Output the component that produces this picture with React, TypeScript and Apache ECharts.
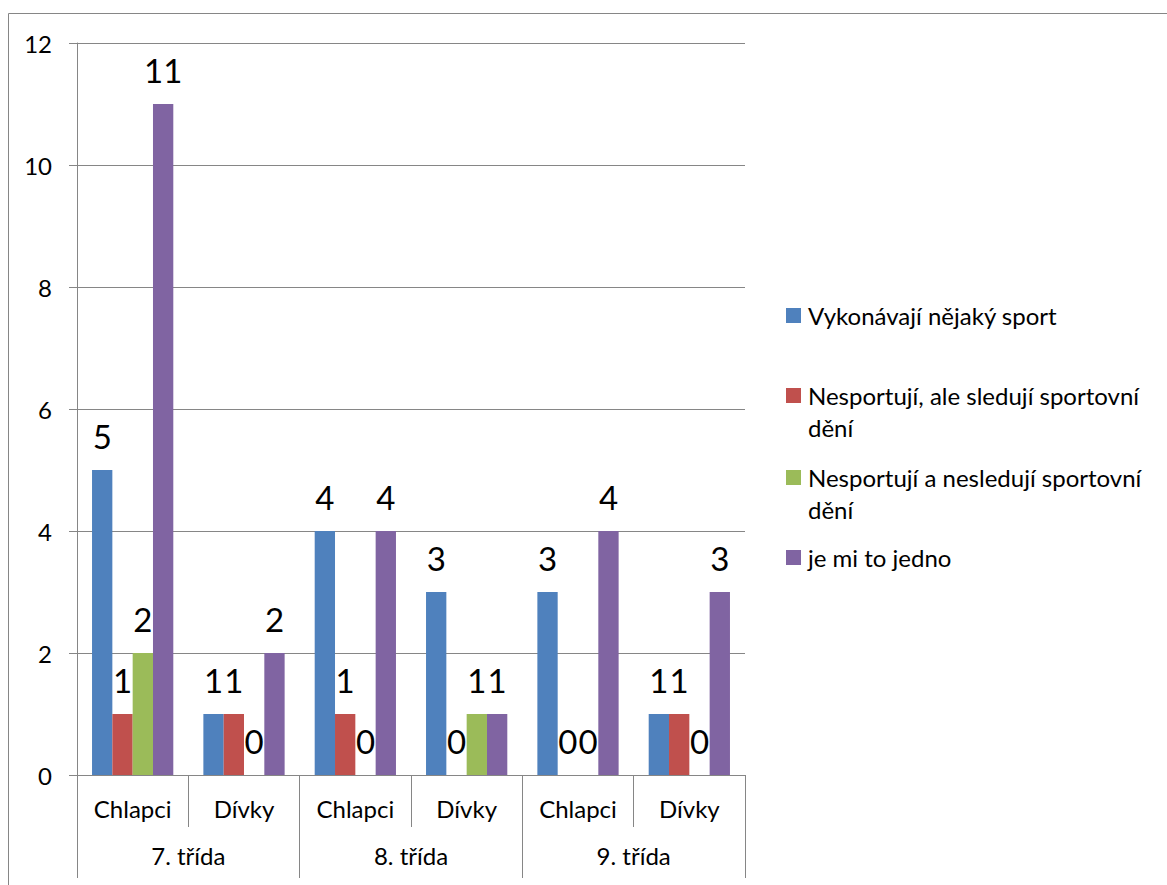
import React, { useEffect, useRef } from "react";
import * as echarts from "echarts";

const subCategories = ["Chlapci", "Dívky", "Chlapci", "Dívky", "Chlapci", "Dívky"];
const groups = ["7. třída", "8. třída", "9. třída"];
const seriesNames = [
  "Vykonávají nějaký sport",
  "Nesportují, ale sledují sportovní dění",
  "Nesportují a nesledují sportovní dění",
  "je mi to jedno",
];
const legendLabels = [
  "Vykonávají nějaký sport",
  "Nesportují, ale sledují sportovní\ndění",
  "Nesportují a nesledují sportovní\ndění",
  "je mi to jedno",
];
const sportValues = [5, 1, 4, 3, 3, 1];
const watchValues = [1, 1, 1, 0, 0, 1];
const neitherValues = [2, 0, 0, 1, 0, 0];
const dontCareValues = [11, 2, 4, 1, 4, 3];
const colors = ["#4F81BD", "#C0504D", "#9BBB59", "#8064A2"];

const FONT = "Lato, 'Open Sans', sans-serif";
const GRAY = "#868686";

export default function App() {
  const ref = useRef<HTMLDivElement>(null);
  useEffect(() => {
    if (!ref.current) return;
    const chart = echarts.init(ref.current, null, { renderer: "svg" });
    const values = [sportValues, watchValues, neitherValues, dontCareValues];
    const lineH = 32;
    const iconTops = [308, 388, 470, 550];
    const legends = seriesNames.map((name, i) => {
      const twoLine = legendLabels[i].includes("\n");
      // two-line items: a leading empty line keeps the first text line level with the icon
      const label = twoLine ? "\n" + legendLabels[i] : legendLabels[i];
      const top = twoLine ? iconTops[i] - (48 - 7.5) : iconTops[i] - (16 - 7.5);
      return {
        data: [name],
        orient: "vertical",
        left: 786,
        top,
        padding: 0,
        itemWidth: 15,
        itemHeight: 15,
        itemGap: 0,
        selectedMode: false,
        icon: "rect",
        formatter: () => label,
        textStyle: {
          fontFamily: FONT,
          fontSize: 24,
          color: "#000",
          lineHeight: lineH,
          padding: [0, 0, 0, 2],
        },
      };
    });
    chart.setOption({
      animation: false,
      textStyle: { fontFamily: FONT },
      graphic: [
        {
          type: "rect",
          shape: { x: 8.5, y: 13.5, width: 1400, height: 1000 },
          style: { fill: "none", stroke: GRAY, lineWidth: 1 },
          silent: true,
        },
      ],
      legend: legends,
      grid: { left: 77, top: 43, width: 668, height: 732 },
      xAxis: [
        {
          type: "category",
          data: subCategories,
          position: "bottom",
          axisLine: { show: true, lineStyle: { color: GRAY, width: 1 } },
          axisTick: { show: true, length: 52, interval: 0, lineStyle: { color: GRAY } },
          axisLabel: { interval: 0, fontSize: 24, color: "#000", margin: 21, fontFamily: FONT },
        },
        {
          type: "category",
          data: groups,
          position: "bottom",
          axisLine: { show: false },
          axisTick: { show: true, length: 103, interval: 0, lineStyle: { color: GRAY } },
          axisLabel: { interval: 0, fontSize: 24, color: "#000", margin: 68, fontFamily: FONT },
        },
      ],
      yAxis: {
        type: "value",
        min: 0,
        max: 12,
        interval: 2,
        axisLine: { show: true, lineStyle: { color: GRAY, width: 1 } },
        axisTick: { show: true, length: 8, lineStyle: { color: GRAY } },
        splitLine: { show: true, lineStyle: { color: GRAY, width: 1 } },
        axisLabel: { fontSize: 24, color: "#000", margin: 25, fontFamily: FONT },
      },
      series: seriesNames.map((name, i) => ({
        name,
        type: "bar",
        xAxisIndex: 0,
        data: values[i],
        barGap: "0%",
        barCategoryGap: "27%",
        itemStyle: { color: colors[i] },
        label: {
          show: true,
          position: "top",
          distance: 18,
          fontSize: 33,
          color: "#000",
          fontFamily: FONT,
        },
      })),
    });
    return () => chart.dispose();
  }, []);
  return (
    <div
      ref={ref}
      style={{ position: "absolute", left: 0, top: 0, width: 1167, height: 885, background: "#fff" }}
    />
  );
}
